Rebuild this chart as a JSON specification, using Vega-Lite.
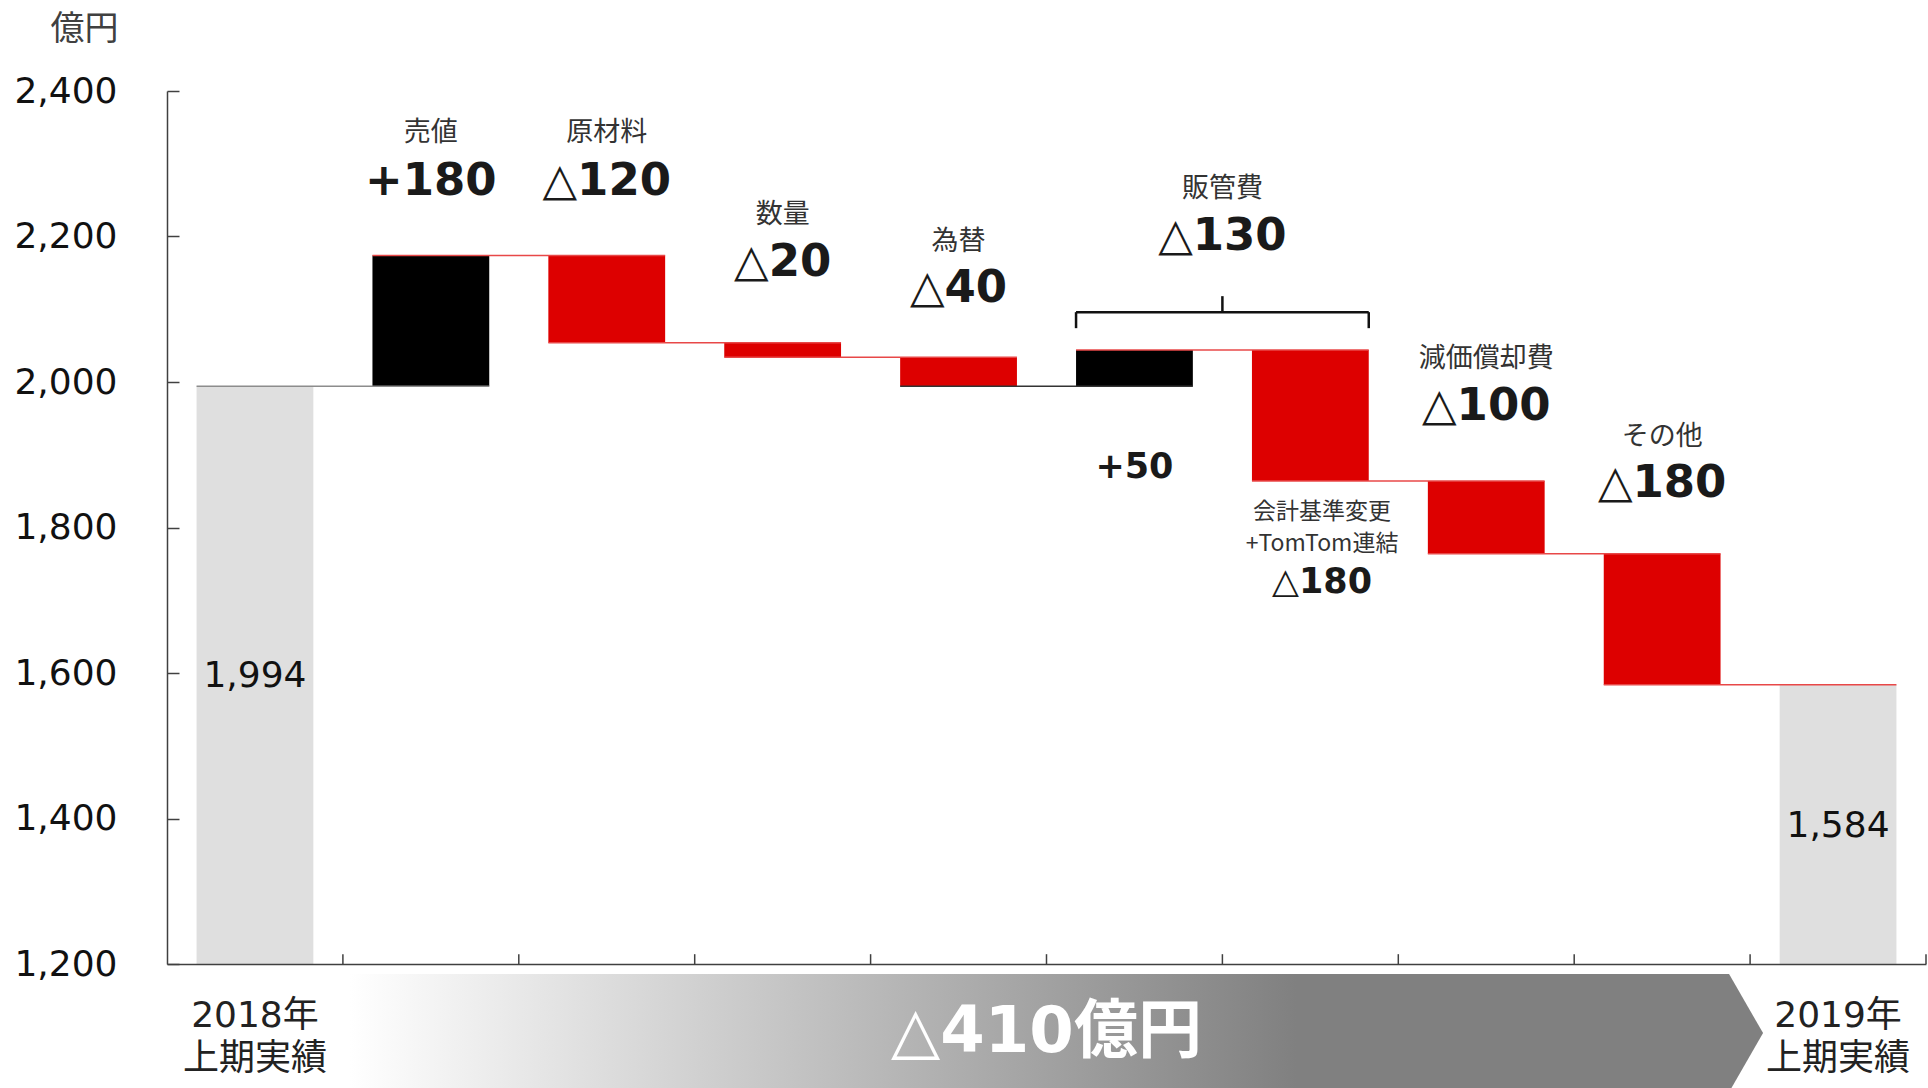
{
  "$schema": "https://vega.github.io/schema/vega-lite/v6.json",
  "width": 1759,
  "height": 873,
  "autosize": {"type": "none"},
  "padding": {"left": 167, "top": 91, "right": 2, "bottom": 124},
  "background": "#ffffff",
  "config": {"view": {"stroke": null}, "font": "DejaVu Sans, Noto Sans CJK JP"},
  "resolve": {"axis": {"x": "independent", "y": "independent"}},
  "datasets": {
    "bars": [
      {"cat": "2018", "start": 0, "end": 1994, "kind": "total"},
      {"cat": "売値", "start": 1994, "end": 2174, "kind": "up"},
      {"cat": "原材料", "start": 2174, "end": 2054, "kind": "down"},
      {"cat": "数量", "start": 2054, "end": 2034, "kind": "down"},
      {"cat": "為替", "start": 2034, "end": 1994, "kind": "down"},
      {"cat": "販管費+", "start": 1994, "end": 2044, "kind": "up"},
      {"cat": "販管費-", "start": 2044, "end": 1864, "kind": "down"},
      {"cat": "減価償却費", "start": 1864, "end": 1764, "kind": "down"},
      {"cat": "その他", "start": 1764, "end": 1584, "kind": "down"},
      {"cat": "2019", "start": 0, "end": 1584, "kind": "total"}
    ],
    "links": [
      {"from": "2018", "to": "売値", "level": 1994, "kind": "start"},
      {"from": "売値", "to": "原材料", "level": 2174, "kind": "step"},
      {"from": "原材料", "to": "数量", "level": 2054, "kind": "step"},
      {"from": "数量", "to": "為替", "level": 2034, "kind": "step"},
      {"from": "為替", "to": "販管費+", "level": 1994, "kind": "flat"},
      {"from": "販管費+", "to": "販管費-", "level": 2044, "kind": "step"},
      {"from": "販管費-", "to": "減価償却費", "level": 1864, "kind": "step"},
      {"from": "減価償却費", "to": "その他", "level": 1764, "kind": "step"},
      {"from": "その他", "to": "2019", "level": 1584, "kind": "step"}
    ],
    "ticks": [
      {"cat": "2018", "lo": 1200, "hi": 1213.5},
      {"cat": "売値", "lo": 1200, "hi": 1213.5},
      {"cat": "原材料", "lo": 1200, "hi": 1213.5},
      {"cat": "数量", "lo": 1200, "hi": 1213.5},
      {"cat": "為替", "lo": 1200, "hi": 1213.5},
      {"cat": "販管費+", "lo": 1200, "hi": 1213.5},
      {"cat": "販管費-", "lo": 1200, "hi": 1213.5},
      {"cat": "減価償却費", "lo": 1200, "hi": 1213.5},
      {"cat": "その他", "lo": 1200, "hi": 1213.5},
      {"cat": "2019", "lo": 1200, "hi": 1213.5}
    ],
    "names": [
      {"cat": "売値", "y": 2342, "text": "売値"},
      {"cat": "原材料", "y": 2342, "text": "原材料"},
      {"cat": "数量", "y": 2230, "text": "数量"},
      {"cat": "為替", "y": 2192, "text": "為替"},
      {"cat": "減価償却費", "y": 2032, "text": "減価償却費"},
      {"cat": "その他", "y": 1924, "text": "その他"}
    ],
    "deltas": [
      {"cat": "売値", "y": 2276, "text": "+180"},
      {"cat": "原材料", "y": 2276, "text": "△120"},
      {"cat": "数量", "y": 2165, "text": "△20"},
      {"cat": "為替", "y": 2129, "text": "△40"},
      {"cat": "減価償却費", "y": 1967, "text": "△100"},
      {"cat": "その他", "y": 1861, "text": "△180"}
    ]
  },
  "layer": [
    {
      "data": {"name": "bars"},
      "mark": {"type": "bar", "clip": true},
      "encoding": {
        "x": {
          "field": "cat", "type": "nominal",
          "scale": {"domain": ["2018", "売値", "原材料", "数量", "為替", "販管費+", "販管費-", "減価償却費", "その他", "2019"], "paddingInner": 0.336, "paddingOuter": 0.168},
          "axis": {
            "title": null, "zindex": 1, "grid": false, "ticks": false,
            "domainColor": "#404040", "domainWidth": 1.5,
            "labelAngle": 0, "labelFontSize": 36, "labelColor": "#222222", "labelLineHeight": 43,
            "labelPadding": 34, "labelOverlap": false, "labelBaseline": "top",
            "labelExpr": "datum.value == '2018' ? ['2018年', '上期実績'] : datum.value == '2019' ? ['2019年', '上期実績'] : ''"
          }
        },
        "y": {
          "field": "end", "type": "quantitative",
          "scale": {"domain": [1200, 2400], "zero": false, "nice": false},
          "axis": {
            "title": "億円", "titleAngle": 0, "titleAlign": "right", "titleBaseline": "middle",
            "titleX": -49, "titleY": -62, "titleFontSize": 34, "titleFontWeight": "normal",
            "titleColor": "#404040", "titleFont": "Noto Sans CJK JP",
            "zindex": 1, "grid": false,
            "values": [1200, 1400, 1600, 1800, 2000, 2200, 2400], "format": ",.0f",
            "tickSize": -12, "tickColor": "#404040", "tickWidth": 1.5,
            "domainColor": "#404040", "domainWidth": 1.5,
            "labelFontSize": 36, "labelColor": "#111111", "labelPadding": 62
          }
        },
        "y2": {"field": "start"},
        "color": {"field": "kind", "type": "nominal", "scale": {"domain": ["total", "up", "down"], "range": ["#DFDFDF", "#000000", "#DD0000"]}, "legend": null}
      }
    },
    {
      "data": {"name": "ticks"},
      "mark": {"type": "rule", "strokeWidth": 1.5, "color": "#404040"},
      "encoding": {
        "x": {"field": "cat", "type": "nominal", "bandPosition": 1.253, "axis": null},
        "y": {"field": "lo", "type": "quantitative", "axis": null},
        "y2": {"field": "hi"}
      }
    },
    {
      "data": {"name": "links"},
      "mark": {"type": "rule", "strokeWidth": 1.5},
      "encoding": {
        "x": {"field": "from", "type": "nominal", "bandPosition": 0, "axis": null},
        "x2": {"field": "to", "bandPosition": 1},
        "y": {"field": "level", "type": "quantitative", "axis": null},
        "stroke": {"field": "kind", "type": "nominal", "scale": {"domain": ["start", "flat", "step"], "range": ["#8C8C8C", "#333333", "#E84848"]}, "legend": null}
      }
    },
    {
      "data": {"values": [{"from": "販管費+", "to": "販管費-", "level": 2096}]},
      "mark": {"type": "rule", "strokeWidth": 2.5, "color": "#111111"},
      "encoding": {
        "x": {"field": "from", "type": "nominal", "bandPosition": 0, "axis": null},
        "x2": {"field": "to", "bandPosition": 1},
        "y": {"field": "level", "type": "quantitative", "axis": null}
      }
    },
    {
      "data": {"values": [{"cat": "販管費+", "lo": 2074, "hi": 2096}]},
      "mark": {"type": "rule", "strokeWidth": 2.5, "color": "#111111"},
      "encoding": {
        "x": {"field": "cat", "type": "nominal", "bandPosition": 0, "axis": null},
        "y": {"field": "lo", "type": "quantitative", "axis": null},
        "y2": {"field": "hi"}
      }
    },
    {
      "data": {"values": [{"cat": "販管費-", "lo": 2074, "hi": 2096}]},
      "mark": {"type": "rule", "strokeWidth": 2.5, "color": "#111111"},
      "encoding": {
        "x": {"field": "cat", "type": "nominal", "bandPosition": 1, "axis": null},
        "y": {"field": "lo", "type": "quantitative", "axis": null},
        "y2": {"field": "hi"}
      }
    },
    {
      "data": {"values": [{"cat": "販管費+", "lo": 2096, "hi": 2118}]},
      "mark": {"type": "rule", "strokeWidth": 2.5, "color": "#111111"},
      "encoding": {
        "x": {"field": "cat", "type": "nominal", "bandPosition": 1.253, "axis": null},
        "y": {"field": "lo", "type": "quantitative", "axis": null},
        "y2": {"field": "hi"}
      }
    },
    {
      "data": {"name": "names"},
      "mark": {"type": "text", "font": "Noto Sans CJK JP", "fontSize": 27, "color": "#333333", "align": "center", "baseline": "middle"},
      "encoding": {
        "x": {"field": "cat", "type": "nominal", "axis": null},
        "y": {"field": "y", "type": "quantitative", "axis": null},
        "text": {"field": "text"}
      }
    },
    {
      "data": {"name": "deltas"},
      "mark": {"type": "text", "font": "DejaVu Sans", "fontWeight": "bold", "fontSize": 45, "color": "#1a1a1a", "align": "center", "baseline": "middle"},
      "encoding": {
        "x": {"field": "cat", "type": "nominal", "axis": null},
        "y": {"field": "y", "type": "quantitative", "axis": null},
        "text": {"field": "text"}
      }
    },
    {
      "data": {"values": [{"cat": "販管費+", "y": 2265, "text": "販管費"}]},
      "mark": {"type": "text", "font": "Noto Sans CJK JP", "fontSize": 27, "color": "#333333", "align": "center", "baseline": "middle"},
      "encoding": {
        "x": {"field": "cat", "type": "nominal", "bandPosition": 1.253, "axis": null},
        "y": {"field": "y", "type": "quantitative", "axis": null},
        "text": {"field": "text"}
      }
    },
    {
      "data": {"values": [{"cat": "販管費+", "y": 2201, "text": "△130"}]},
      "mark": {"type": "text", "font": "DejaVu Sans", "fontWeight": "bold", "fontSize": 45, "color": "#1a1a1a", "align": "center", "baseline": "middle"},
      "encoding": {
        "x": {"field": "cat", "type": "nominal", "bandPosition": 1.253, "axis": null},
        "y": {"field": "y", "type": "quantitative", "axis": null},
        "text": {"field": "text"}
      }
    },
    {
      "data": {"values": [{"cat": "販管費+", "y": 1883, "text": "+50"}]},
      "mark": {"type": "text", "font": "DejaVu Sans", "fontWeight": "bold", "fontSize": 35, "color": "#1a1a1a", "align": "center", "baseline": "middle"},
      "encoding": {
        "x": {"field": "cat", "type": "nominal", "axis": null},
        "y": {"field": "y", "type": "quantitative", "axis": null},
        "text": {"field": "text"}
      }
    },
    {
      "data": {"values": [{"cat": "販管費-", "y": 1821, "text": "会計基準変更"}, {"cat": "販管費-", "y": 1778, "text": "+TomTom連結"}]},
      "mark": {"type": "text", "font": "Noto Sans CJK JP", "fontSize": 23, "color": "#333333", "align": "center", "baseline": "middle"},
      "encoding": {
        "x": {"field": "cat", "type": "nominal", "bandPosition": 0.6, "axis": null},
        "y": {"field": "y", "type": "quantitative", "axis": null},
        "text": {"field": "text"}
      }
    },
    {
      "data": {"values": [{"cat": "販管費-", "y": 1725, "text": "△180"}]},
      "mark": {"type": "text", "font": "DejaVu Sans", "fontWeight": "bold", "fontSize": 35, "color": "#1a1a1a", "align": "center", "baseline": "middle"},
      "encoding": {
        "x": {"field": "cat", "type": "nominal", "bandPosition": 0.6, "axis": null},
        "y": {"field": "y", "type": "quantitative", "axis": null},
        "text": {"field": "text"}
      }
    },
    {
      "data": {"values": [{"cat": "2018", "y": 1596, "text": "1,994"}, {"cat": "2019", "y": 1390, "text": "1,584"}]},
      "mark": {"type": "text", "font": "DejaVu Sans", "fontSize": 36, "color": "#111111", "align": "center", "baseline": "middle"},
      "encoding": {
        "x": {"field": "cat", "type": "nominal", "axis": null},
        "y": {"field": "y", "type": "quantitative", "axis": null},
        "text": {"field": "text"}
      }
    },
    {
      "data": {"values": [{"cat": "2019", "y": 1105}]},
      "mark": {
        "type": "point", "shape": "M-23.95,-1L-0.576,-1L0,0L-0.576,1L-23.95,1Z", "size": 13924,
        "filled": true, "opacity": 1, "strokeWidth": 0,
        "fill": {"gradient": "linear", "x1": 0, "y1": 0, "x2": 1, "y2": 0, "stops": [{"offset": 0, "color": "#ffffff"}, {"offset": 0.67, "color": "#808080"}, {"offset": 1, "color": "#808080"}]}
      },
      "encoding": {
        "x": {"field": "cat", "type": "nominal", "bandPosition": -0.142, "axis": null},
        "y": {"field": "y", "type": "quantitative", "axis": null}
      }
    },
    {
      "data": {"values": [{"cat": "為替", "y": 1105, "text": "△410億円"}]},
      "mark": {"type": "text", "font": "DejaVu Sans, Noto Sans CJK JP", "fontWeight": "bold", "fontSize": 64, "color": "#ffffff", "align": "center", "baseline": "middle"},
      "encoding": {
        "x": {"field": "cat", "type": "nominal", "bandPosition": 1.253, "axis": null},
        "y": {"field": "y", "type": "quantitative", "axis": null},
        "text": {"field": "text"}
      }
    }
  ]
}
